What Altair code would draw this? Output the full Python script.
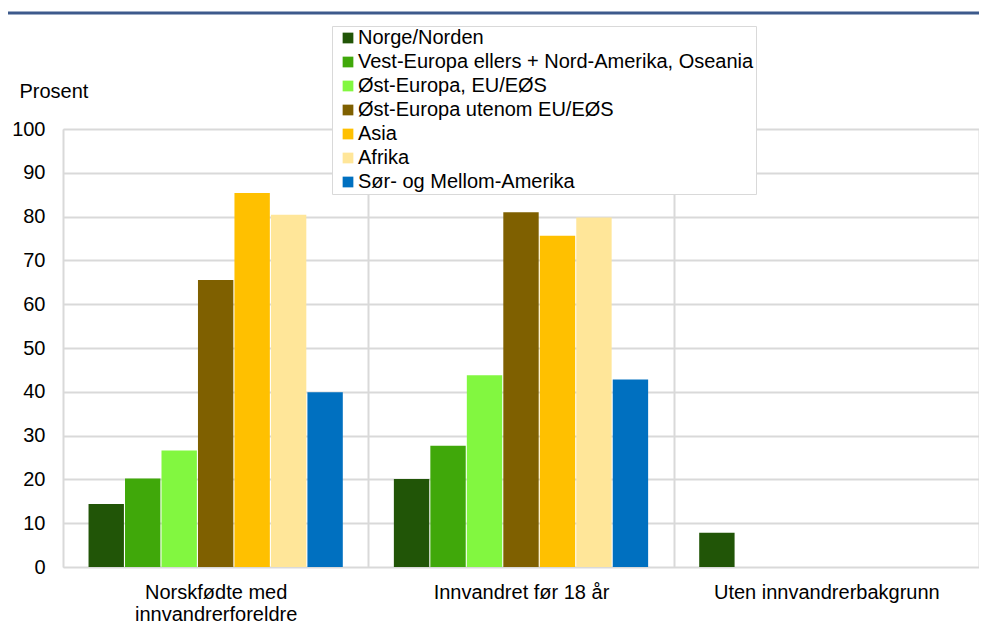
import altair as alt
import pandas as pd

categories = ["Norskfødte med innvandrerforeldre", "Innvandret før 18 år", "Uten innvandrerbakgrunn"]
series = [
    "Norge/Norden",
    "Vest-Europa ellers + Nord-Amerika, Oseania",
    "Øst-Europa, EU/EØS",
    "Øst-Europa utenom EU/EØS",
    "Asia",
    "Afrika",
    "Sør- og Mellom-Amerika",
]
colors = ["#215507", "#40a80a", "#82f740", "#7f6000", "#ffc000", "#ffe699", "#0070c0"]

norge = [14.4, 20.1, 7.8]
vest = [20.2, 27.7, None]
ost_eu = [26.6, 43.8, None]
ost_utenom = [65.5, 81.0, None]
asia = [85.4, 75.6, None]
afrika = [80.4, 79.8, None]
sor_mellom = [39.9, 42.8, None]

values = [norge, vest, ost_eu, ost_utenom, asia, afrika, sor_mellom]

rows = []
for s, vals in zip(series, values):
    for c, v in zip(categories, vals):
        if v is not None:
            rows.append({"kategori": c, "region": s, "prosent": v})
df = pd.DataFrame(rows)

FONT = "Liberation Sans"
GRID = "#d9d9d9"

bars = alt.Chart(df).mark_bar().encode(
    x=alt.X(
        "kategori:N",
        sort=categories,
        scale=alt.Scale(paddingInner=0, paddingOuter=0),
        axis=alt.Axis(
            title=None,
            labelAngle=0,
            grid=True,
            tickBand="extent",
            ticks=False,
            domain=False,
            gridColor=GRID,
            gridWidth=2,
            labelFontSize=20,
            labelPadding=31.5,
            labelBaseline="alphabetic",
            labelLineHeight=22.4,
            labelColor="#000000",
            labelFont=FONT,
            labelLimit=400,
            labelExpr="datum.value == 'Norskfødte med innvandrerforeldre' ? ['Norskfødte med', 'innvandrerforeldre'] : datum.label",
        ),
    ),
    xOffset=alt.XOffset(
        "region:N",
        sort=series,
        scale=alt.Scale(paddingInner=0.03, paddingOuter=0.7),
    ),
    y=alt.Y(
        "prosent:Q",
        scale=alt.Scale(domain=[0, 100]),
        axis=alt.Axis(
            values=list(range(0, 101, 10)),
            title="Prosent",
            titleAngle=0,
            titleX=-44,
            titleY=-32,
            titleAlign="left",
            titleBaseline="alphabetic",
            titleFontWeight="normal",
            titleFontSize=20,
            titleFont=FONT,
            titleColor="#000000",
            ticks=False,
            domain=False,
            labelPadding=18,
            labelFontSize=20,
            labelFont=FONT,
            labelColor="#000000",
            gridColor=GRID,
            gridWidth=2,
        ),
    ),
    color=alt.Color(
        "region:N",
        sort=series,
        scale=alt.Scale(domain=series, range=colors),
        legend=alt.Legend(
            title=None,
            orient="none",
            legendX=269,
            legendY=-103,
            padding=2,
            rowPadding=4,
            symbolType="square",
            symbolSize=115,
            symbolStrokeWidth=0,
            symbolOffset=4,
            labelOffset=0,
            labelFontSize=20,
            labelFont=FONT,
            labelColor="#000000",
            labelLimit=600,
            fillColor="#ffffff",
            strokeColor=GRID,
        ),
    ),
)

rule = alt.Chart(pd.DataFrame({"a": [0]})).mark_rule(color="#3d5a8c", strokeWidth=3).encode(
    x=alt.value(-55), x2=alt.value(916), y=alt.value(-116)
)

chart = alt.layer(bars, rule).properties(
    width=916,
    height=438,
    padding={"left": 55, "top": 121, "right": 0, "bottom": 63},
    autosize=alt.AutoSizeParams(type="none"),
).configure_view(stroke=None).configure(font=FONT)

chart.save("out.html", embed_options={"renderer": "svg", "actions": False})
